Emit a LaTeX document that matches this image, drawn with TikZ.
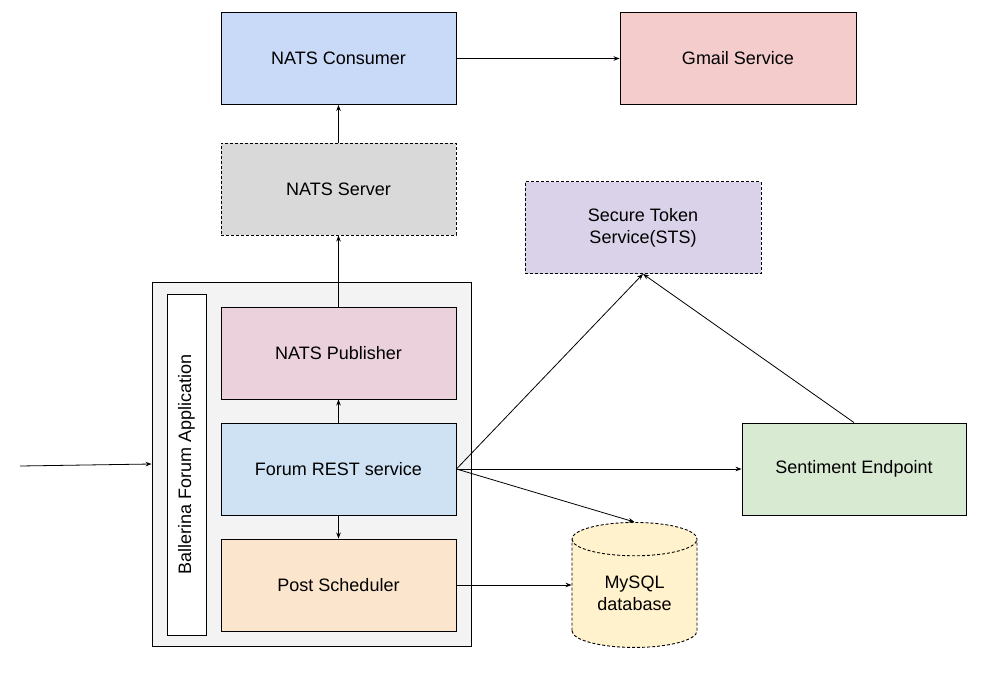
\documentclass[tikz,border=0pt]{standalone}
\usepackage{fontspec}
\setmainfont{Liberation Sans}
\usetikzlibrary{shapes.geometric,arrows.meta}

\definecolor{consumerfill}{HTML}{C9DAF8}
\definecolor{gmailfill}{HTML}{F4CCCC}
\definecolor{serverfill}{HTML}{D9D9D9}
\definecolor{stsfill}{HTML}{D9D2E9}
\definecolor{appfill}{HTML}{F3F3F3}
\definecolor{publisherfill}{HTML}{EAD1DC}
\definecolor{restfill}{HTML}{CFE2F3}
\definecolor{schedfill}{HTML}{FCE5CD}
\definecolor{sentifill}{HTML}{D9EAD3}
\definecolor{dbfill}{HTML}{FFF2CC}

\tikzset{
  svcbox/.style={shape=rectangle,draw=black,align=center,line width=0.9pt,
    minimum width=235pt,minimum height=92pt,inner sep=0pt,
    font=\fontsize{18}{22}\selectfont},
  dashbox/.style={svcbox,dash pattern=on 3pt off 2pt},
  link/.style={-{Stealth[length=6pt,width=4.5pt]},draw=black,line width=0.8pt},
}

\begin{document}
\begin{tikzpicture}[x=1pt,y=-1pt]
\useasboundingbox (0,0) rectangle (993,677);

\node[svcbox,fill=consumerfill] (consumer) at (338.5,58.5) {NATS Consumer};
\node[svcbox,fill=gmailfill,minimum width=236pt] (gmail) at (738,58.5) {Gmail Service};
\node[dashbox,fill=serverfill] (server) at (338.5,189) {NATS Server};
\node[dashbox,fill=stsfill,minimum width=236pt] (sts) at (643,227.5) {Secure Token\\Service(STS)};

\node[shape=rectangle,draw=black,fill=appfill,line width=0.9pt,minimum width=319pt,minimum height=364pt] (app) at (311.5,464) {};
\node[shape=rectangle,draw=black,fill=white,line width=0.9pt,minimum width=39pt,minimum height=341pt,inner sep=0pt] (applabel) at (186.5,464.5) {};
\node[rotate=90,font=\fontsize{18}{22}\selectfont] (appname) at (applabel.center) {Ballerina Forum Application};

\node[svcbox,fill=publisherfill] (publisher) at (338.5,353) {NATS Publisher};
\node[svcbox,fill=restfill] (rest) at (338.5,469) {Forum REST service};
\node[svcbox,fill=schedfill] (scheduler) at (338.5,585) {Post Scheduler};
\node[svcbox,fill=sentifill,minimum width=224pt] (senti) at (854,469) {Sentiment Endpoint};
\node[shape=cylinder,shape border rotate=90,aspect=0.45,draw=black,fill=dbfill,
  dash pattern=on 3pt off 2pt,line width=0.9pt,minimum width=125pt,minimum height=125pt,
  inner sep=0pt,align=center,font=\fontsize{18}{22}\selectfont] (mysql) at (634.5,593.5) {MySQL\\database};

\coordinate (client) at (20,466);

\draw [link] (client) -- (app.west);
\draw [link] (consumer) -- (gmail);
\draw [link] (server) -- (consumer);
\draw [link] (publisher) -- (server);
\draw [link] (rest) -- (publisher);
\draw [link] (rest) -- (scheduler);
\draw [link] (rest.east) -- (sts.south);
\draw [link] (senti.north) -- (sts.south);
\draw [link] (rest.east) -- (senti.west);
\draw [link] (rest.east) -- (mysql.top);
\draw [link] (scheduler.east) -- (scheduler.east -| mysql.west);
\end{tikzpicture}
\end{document}
